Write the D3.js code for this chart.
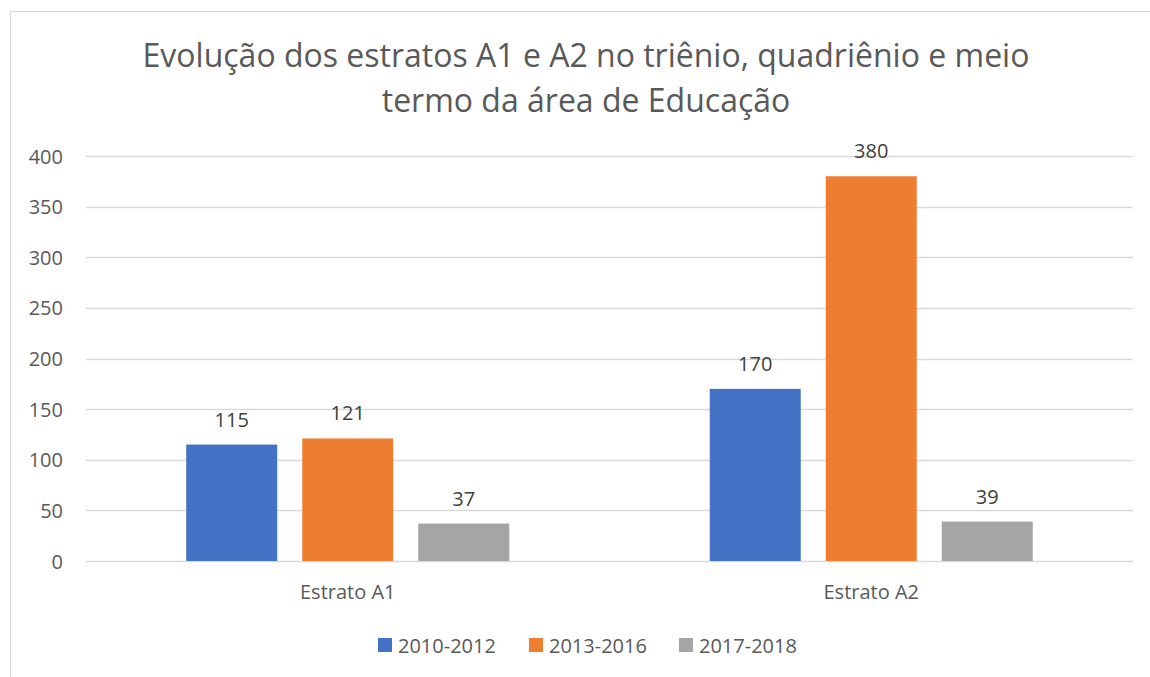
<!DOCTYPE html>
<html><head><meta charset="utf-8">
<script src="https://cdn.jsdelivr.net/npm/d3@7"></script>
<style>body{margin:0;background:#fff}svg{display:block}</style>
</head><body>
<svg id="c" width="1150" height="677"></svg>
<script>
const categories = ["Estrato A1", "Estrato A2"];
const seriesNames = ["2010-2012", "2013-2016", "2017-2018"];
const values2010_2012 = [115, 170];
const values2013_2016 = [121, 380];
const values2017_2018 = [37, 39];
const yTicks = [0, 50, 100, 150, 200, 250, 300, 350, 400];
const colors = ["#4472C4", "#ED7D31", "#A5A5A5"];
const titleLines = ["Evolução dos estratos A1 e A2 no triênio, quadriênio e meio", "termo da área de Educação"];

(function () {
const seriesValues = [values2010_2012, values2013_2016, values2017_2018];
const font = "'Open Sans', 'Noto Sans', sans-serif";
const svg = d3.select("#c");

svg.append("rect").attr("x", 10.5).attr("y", 11.5).attr("width", 1160).attr("height", 700)
  .attr("fill", "#fff").attr("stroke", "#D9D9D9").attr("stroke-width", 1);

const pLeft = 86, pRight = 1133, pTop = 156, pBottom = 561;
const x = d3.scaleBand().domain(categories).range([pLeft, pRight]);
const y = d3.scaleLinear().domain([0, 400]).range([pBottom, pTop]);
const inner = d3.scaleBand().domain(seriesNames).range([0, x.bandwidth()]).paddingInner(0.2155).paddingOuter(0.864);

svg.append("g").selectAll("line").data(yTicks).join("line")
  .attr("x1", pLeft).attr("x2", pRight)
  .attr("y1", d => Math.round(y(d)) + 0.5).attr("y2", d => Math.round(y(d)) + 0.5)
  .attr("stroke", "#D9D9D9").attr("stroke-width", 1.3);

const yAxis = d3.axisLeft(y).tickValues(yTicks).tickSize(0).tickPadding(0);
const yg = svg.append("g").attr("transform", `translate(63,0)`).call(yAxis);
yg.select(".domain").remove();
yg.selectAll("text").attr("fill", "#595959").attr("font-family", font).attr("font-size", 20).attr("dy", "0.35em");

const xAxis = d3.axisBottom(x).tickSize(0).tickPadding(0);
const xg = svg.append("g").attr("transform", `translate(0,599)`).call(xAxis);
xg.select(".domain").remove();
xg.selectAll("text").attr("fill", "#595959").attr("font-family", font).attr("font-size", 20).attr("y", 0).attr("dy", 0);

const data = [];
categories.forEach((c, i) => seriesNames.forEach((s, j) => data.push({c, s, j, v: seriesValues[j][i]})));
svg.append("g").selectAll("rect").data(data).join("rect")
  .attr("x", d => x(d.c) + inner(d.s))
  .attr("width", inner.bandwidth())
  .attr("y", d => y(d.v)).attr("height", d => y(0) - y(d.v))
  .attr("fill", d => colors[d.j]);

svg.append("g").selectAll("text").data(data).join("text")
  .attr("x", d => x(d.c) + inner(d.s) + inner.bandwidth() / 2)
  .attr("y", d => y(d.v) - 18)
  .attr("text-anchor", "middle").attr("fill", "#404040")
  .attr("font-family", font).attr("font-size", 20).text(d => d.v);

svg.append("g").selectAll("text").data(titleLines).join("text")
  .attr("x", 586).attr("y", (d, i) => 67 + i * 45)
  .attr("text-anchor", "middle").attr("fill", "#595959")
  .attr("font-family", font).attr("font-size", 32).text(d => d);

const legendX = [378, 529, 679];
const lg = svg.append("g").selectAll("g").data(seriesNames).join("g")
  .attr("transform", (d, i) => `translate(${legendX[i]},638)`);
lg.append("rect").attr("width", 14).attr("height", 14).attr("fill", (d, i) => colors[i]);
lg.append("text").attr("x", 20).attr("y", 15).attr("fill", "#595959")
  .attr("font-family", font).attr("font-size", 20).text(d => d);
})();
</script>
</body></html>
